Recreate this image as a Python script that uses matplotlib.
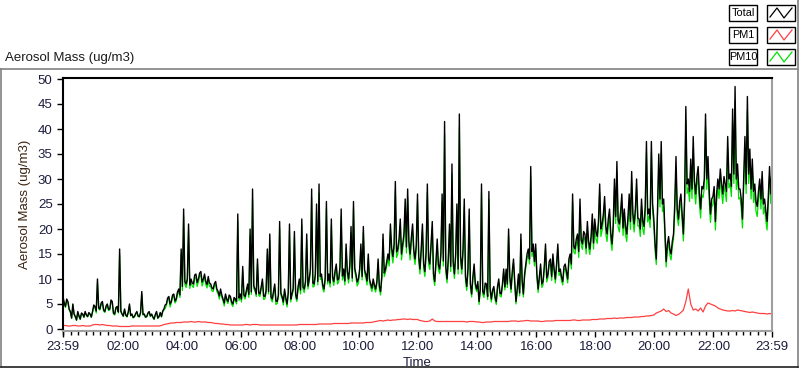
import matplotlib
matplotlib.use('Agg')
import matplotlib.pyplot as plt
from matplotlib.patches import Rectangle
from matplotlib.lines import Line2D
from matplotlib.ticker import MultipleLocator
import numpy as np

# Total and PM10: 2.5 minute samples starting 23:59 the day before (minute -1)
total = [
    6.5, 5.2, 4.5, 6, 5.5, 4, 3.5, 2.2, 5, 3, 2.5, 1.8, 3.5, 2.6, 2, 3.2, 3, 2.4, 3.5, 2.8, 2.5, 3.3, 3, 2.4,
    3.5, 4.8, 4.5, 3.6, 10, 4.2, 4, 5.2, 5.5, 3.8, 3.5, 4.6, 5, 3.9, 4, 5.8, 5.5, 3.2, 3, 4.3, 4.5, 3.4, 16, 3.6,
    3, 2.6, 4, 2.8, 2.5, 3.4, 5, 2.7, 3, 2.3, 2.5, 3.1, 3.5, 2.6, 2.5, 3.3, 7.5, 2.9, 3, 2.4, 2.5, 3.2, 3.5, 2.6,
    3, 2.4, 2, 2.9, 3.5, 2.2, 2.5, 3.3, 2.5, 3.6, 4, 4.8, 5, 6.2, 6.5, 5, 5.5, 6.8, 7, 5.6, 6, 7.4, 8, 6.8,
    16, 8.5, 24, 9.5, 9, 10, 21, 8.8, 10, 9.2, 9, 10.8, 11, 9.3, 10, 11.2, 11.5, 9.4, 10, 11, 9.5, 8.9, 10.5, 9.2,
    9, 8.2, 8, 9.1, 9.5, 8, 7.5, 6.6, 8, 6.8, 6, 5.2, 7, 6, 5.5, 6.8, 6.5, 5.4, 5, 6.3, 6, 5.5, 23, 6.2,
    7, 6, 12.5, 6.8, 6.5, 7.8, 9, 6.9, 20, 7.4, 28, 8.6, 8, 7, 14, 7.2, 7, 8.4, 10, 6.6, 6.5, 7.7, 16, 7.5,
    19, 6.4, 6, 7.5, 9, 5.6, 5.5, 6.8, 21.5, 7.2, 6.5, 5.4, 8, 6.2, 5, 7.3, 21, 6, 7, 8.1, 19.5, 6.9, 6, 8.5,
    10, 7.8, 22, 8.4, 8, 9.5, 19, 8.6, 10, 12, 28, 9.2, 9, 11, 25, 9.5, 29, 10.5, 11, 8.8, 8, 10.2, 25.5, 9.6,
    11, 9.2, 22, 10.4, 9.5, 11.6, 13, 9.8, 10, 12.4, 24, 10.6, 12, 9.6, 17, 11.5, 10, 12.8, 20.5, 10.2, 25.5, 12.2, 11, 9.4,
    10, 12, 17, 10.5, 20.5, 11.8, 11, 9.6, 15, 10, 9, 8.2, 10, 8.8, 8, 9.5, 14, 8.6, 7.5, 10.5, 19, 11.2, 12, 13.5,
    15, 13.8, 21, 16.2, 14.5, 17, 29.5, 15.4, 16, 18, 22, 15, 17, 19, 26, 16.4, 28, 17.5, 15, 18.3, 21, 15.8, 14, 16.8,
    27, 14.5, 12, 16, 21, 13, 11.5, 15.5, 29, 14, 13, 17, 21.5, 11, 9.5, 13.5, 18, 12.8, 12, 15.2, 27, 13.6, 41.5, 12.4,
    10, 14, 21, 12.5, 33, 13.5, 11, 15, 25, 12, 43, 14.5, 12, 16, 26, 10.5, 8.5, 12, 24, 9, 7, 10.5, 13, 9,
    8, 9.5, 5.5, 8, 29, 7.5, 7, 9.2, 9, 6.5, 27.5, 8, 6, 7.8, 8.5, 6.4, 5.5, 8.5, 10, 7.2, 7, 9, 12, 8.4,
    12, 9, 20, 10.5, 8, 11.5, 14, 9.5, 5.5, 8, 11, 7.2, 19, 9.8, 7, 11, 13, 15, 16, 14, 32.5, 15.5, 17, 13.5,
    17, 11, 8, 10.5, 13, 9, 9.5, 12.5, 17, 10.2, 11, 13.5, 14, 10.5, 15, 12, 10, 13, 17, 11.5, 12, 10.4, 9.5, 12.5,
    13, 11.5, 10, 14, 15, 13, 27, 16.5, 16, 18, 19, 15.5, 26, 17.8, 17, 19.5, 19, 16.2, 21.5, 17.5, 16, 18.5, 23, 17.2,
    22, 19.5, 18.5, 21.5, 29, 20, 21, 23, 26.5, 20.5, 19, 22, 24, 19.2, 17, 20.8, 30, 22.5, 33.5, 21.8, 21, 23.5, 27, 20.2,
    24, 20.5, 19, 22.5, 27, 21.5, 31.5, 23, 21, 24, 30, 22.2, 22, 20, 26, 21.6, 20.5, 24.5, 37.5, 23, 24, 22, 37.5, 25,
    22, 17, 14, 24, 35, 26, 37.5, 25, 26, 20, 13.5, 17, 18.5, 16, 15, 17.5, 19, 25, 34.5, 24, 22, 25.5, 27, 23,
    19, 26, 44.5, 29, 30, 27.5, 34, 28, 38.5, 29.5, 27, 30.5, 32.5, 27, 24, 28.5, 28, 30, 43, 30, 34.5, 27.5, 23, 26,
    26.5, 28.5, 21.5, 27, 30, 28, 32, 29, 27, 30.5, 29, 27.5, 38.5, 30, 31, 28.5, 44, 31, 48.5, 30, 33, 28, 28, 26,
    22, 30, 38.5, 29, 46.5, 31, 36, 28, 34, 27.5, 29, 25.5, 24.5, 27.5, 30, 26, 31.5, 25, 26, 23.5, 21.5, 26.5, 32.5, 27,
    32,
]

pm10 = [
    6.2, 5.0, 4.3, 5.7, 5.2, 3.8, 3.3, 2.1, 4.8, 2.9, 2.4, 1.7, 3.3, 2.5, 1.9, 3.0, 2.9, 2.3, 3.3, 2.7, 2.4, 3.1, 2.9, 2.3,
    3.3, 4.5, 4.2, 3.2, 9.3, 4.0, 3.8, 4.9, 5.2, 3.6, 3.3, 4.3, 4.7, 3.7, 3.8, 5.5, 5.2, 3.0, 2.8, 4.0, 4.2, 3.2, 15.0, 3.4,
    2.9, 2.5, 3.8, 2.7, 2.4, 3.2, 4.7, 2.6, 2.9, 2.2, 2.4, 2.9, 3.3, 2.5, 2.4, 3.1, 7.0, 2.8, 2.9, 2.3, 2.4, 3.0, 3.3, 2.5,
    2.9, 2.3, 1.9, 2.8, 3.3, 2.1, 2.4, 3.1, 2.4, 3.4, 3.8, 4.1, 4.7, 5.8, 6.1, 4.4, 5.2, 6.4, 6.6, 5.2, 5.6, 7.0, 7.5, 6.3,
    15, 7.7, 22.5, 8.9, 8.3, 9.4, 19.7, 8.1, 9.4, 8.6, 8.3, 10.1, 10.3, 8.5, 9.4, 10.5, 10.8, 8.6, 9.4, 10.3, 8.9, 8.2, 9.8, 8.5,
    8.5, 7.6, 7.5, 8.6, 8.9, 7.5, 7.0, 6.0, 7.5, 6.4, 5.6, 4.6, 6.6, 5.6, 5.1, 6.4, 6.1, 4.9, 4.5, 5.9, 5.6, 5.0, 21.5, 5.7,
    6.6, 5.4, 11.6, 6.4, 6.0, 7.3, 8.5, 6.3, 18.6, 6.9, 26, 8.1, 7.5, 6.5, 13, 6.7, 6.5, 7.9, 9.4, 5.9, 6.0, 7.2, 15, 7.0,
    17.8, 6.0, 5.4, 7.0, 8.5, 4.9, 5.1, 6.4, 20.2, 6.7, 6.1, 4.8, 7.5, 5.8, 4.4, 6.9, 19.7, 5.4, 6.6, 7.6, 18.3, 6.4, 5.5, 8.0,
    9.4, 7.0, 20.7, 7.9, 7.3, 8.9, 17.8, 8.0, 9.4, 11.3, 26.3, 8.4, 8.5, 10.3, 23.5, 8.8, 27.2, 9.9, 10.3, 8.0, 7.4, 9.6, 24, 9.0,
    10.3, 8.4, 20.7, 9.8, 8.7, 10.9, 12.2, 9.0, 9.4, 11.7, 22.5, 9.8, 11.3, 8.8, 16, 10.8, 9.2, 12.0, 19.3, 9.5, 24, 11.5, 10.3, 8.6,
    9.2, 11.3, 16, 9.8, 19.3, 11.1, 10.3, 8.8, 14.1, 9.4, 8.3, 7.5, 9.4, 8.1, 7.4, 8.9, 13.2, 7.9, 6.8, 9.9, 17.9, 10.5, 11.3, 12.7,
    14, 12.6, 19.7, 15.2, 13.2, 16, 27.7, 14.3, 15, 16.9, 20.7, 13.8, 16, 17.9, 24.4, 15.2, 26.3, 16.4, 13.8, 17.2, 19.7, 14.6, 12.9, 15.8,
    25.4, 13.4, 11.0, 15, 19.7, 12, 10.5, 14.6, 27.3, 13, 11.9, 16, 20.2, 10.1, 8.7, 12.7, 16.9, 11.8, 11.1, 14.3, 25.4, 12.6, 39, 11.4,
    9.2, 13.2, 19.7, 11.5, 31, 12.5, 10.1, 14.1, 23.5, 11, 40.4, 13.4, 11, 15, 24.4, 9.6, 7.7, 11.3, 22.6, 8.2, 6.4, 9.9, 12.2, 8.3,
    7.5, 8.9, 4.9, 7.5, 27.3, 6.9, 6.3, 8.6, 8.5, 5.9, 25.9, 7.4, 5.4, 7.3, 8.0, 5.8, 4.9, 8.0, 9.4, 6.6, 6.4, 8.5, 11.3, 7.8,
    11.3, 8.3, 18.8, 9.9, 7.3, 10.8, 13.2, 8.8, 5.0, 7.4, 10.3, 6.6, 17.9, 9.1, 6.4, 10.3, 12.2, 14.1, 15, 13, 30.5, 14.5, 16, 12.6,
    16, 10.2, 7.3, 9.8, 12.2, 8.3, 8.8, 11.8, 16, 9.4, 10.3, 12.7, 13.2, 9.7, 14.1, 11.3, 9.2, 12.2, 16, 10.7, 11.3, 9.6, 8.8, 11.8,
    12.2, 10.7, 9.2, 13.2, 14.1, 12, 25.4, 15.4, 15, 16.9, 17.9, 14.3, 24.4, 16.7, 15.9, 18.3, 17.9, 15, 20.2, 16.3, 14.9, 17.4, 21.6, 16,
    20.7, 18, 17.1, 20.2, 27.3, 18.5, 19.7, 21.6, 24.9, 19, 17.5, 20.7, 22.6, 17.7, 15.7, 19.5, 28.2, 21.1, 31.5, 20.4, 19.4, 22.1, 25.4, 18.7,
    22.6, 18.9, 17.5, 21.1, 25.4, 19.9, 29.6, 21.6, 19.4, 22.6, 28.2, 20.6, 20.7, 18.5, 24.4, 20, 18.9, 23, 35.3, 21.4, 22.6, 20.3, 35.3, 23.5,
    20.7, 15.6, 12.9, 22.6, 32.9, 24.4, 35.3, 23.5, 24.4, 18.5, 12.4, 15.8, 17.4, 14.8, 13.8, 16.4, 17.9, 23.5, 32.4, 22.3, 20.7, 24, 25.4, 21.4,
    17.6, 24.4, 41.8, 27.1, 28.2, 25.5, 32, 26.1, 36.2, 27.5, 25, 28.7, 30.5, 25.1, 22.2, 26.8, 26.3, 28.2, 40.4, 27.9, 32.4, 25.6, 21.3, 24.4,
    24.9, 26.8, 19.8, 25.4, 28.2, 26.1, 30.1, 27.3, 25.1, 28.7, 27.3, 25.5, 36.2, 28.2, 29.1, 26.5, 41.4, 29.1, 45.6, 27.9, 31, 26, 26.3, 24.2,
    20.2, 28.2, 36.2, 27.1, 43.7, 29.1, 33.8, 26, 32, 25.3, 27.3, 23.5, 22.5, 25.9, 28.2, 24, 29.6, 23, 24.4, 21.6, 19.8, 24.9, 30.6, 25.1,
    30,
]

# PM1: 5 minute samples
pm1 = [
    0.7, 0.7, 0.6, 0.6, 0.7, 0.7, 0.6, 0.6, 0.7, 0.6, 0.6, 0.6,
    0.8, 0.9, 0.9, 0.8, 0.9, 0.8, 0.7, 0.7, 0.6, 0.6, 0.6, 0.5,
    0.5, 0.5, 0.5, 0.5, 0.6, 0.6, 0.6, 0.6, 0.6, 0.6, 0.6, 0.6,
    0.6, 0.6, 0.6, 0.6, 0.7, 0.9, 1.0, 1.1, 1.2, 1.2, 1.3, 1.3,
    1.3, 1.4, 1.4, 1.4, 1.5, 1.4, 1.4, 1.5, 1.4, 1.4, 1.4, 1.3,
    1.3, 1.2, 1.1, 1.1, 1.0, 1.0, 0.9, 0.9, 0.8, 0.8, 0.8, 0.8,
    0.8, 0.8, 0.9, 0.9, 0.8, 0.9, 0.9, 0.9, 0.8, 0.8, 0.8, 0.8,
    0.8, 0.8, 0.8, 0.8, 0.8, 0.8, 0.8, 0.8, 0.8, 0.8, 0.8, 0.8,
    0.9, 0.9, 0.9, 0.9, 0.9, 0.9, 0.9, 0.9, 1.0, 1.0, 1.0, 1.0,
    1.0, 1.0, 1.1, 1.1, 1.1, 1.1, 1.1, 1.1, 1.1, 1.2, 1.2, 1.2,
    1.2, 1.2, 1.2, 1.3, 1.3, 1.3, 1.4, 1.5, 1.6, 1.7, 1.6, 1.7,
    1.8, 1.7, 1.8, 1.8, 1.9, 1.9, 2.0, 2.0, 1.9, 2.0, 1.9, 1.9,
    1.9, 1.7, 1.6, 1.5, 1.5, 1.6, 2.0, 1.6, 1.5, 1.5, 1.5, 1.5,
    1.5, 1.5, 1.5, 1.5, 1.5, 1.5, 1.5, 1.5, 1.4, 1.5, 1.5, 1.5,
    1.4, 1.4, 1.3, 1.3, 1.4, 1.4, 1.4, 1.5, 1.5, 1.5, 1.5, 1.5,
    1.5, 1.5, 1.6, 1.6, 1.6, 1.5, 1.6, 1.6, 1.7, 1.7, 1.6, 1.6,
    1.6, 1.6, 1.5, 1.5, 1.6, 1.6, 1.6, 1.6, 1.7, 1.7, 1.7, 1.7,
    1.7, 1.7, 1.7, 1.8, 1.8, 1.7, 1.7, 1.8, 1.8, 1.8, 1.8, 1.9,
    1.9, 1.9, 2.0, 2.0, 2.0, 2.1, 2.1, 2.1, 2.2, 2.1, 2.2, 2.2,
    2.2, 2.3, 2.3, 2.3, 2.4, 2.4, 2.4, 2.5, 2.5, 2.6, 2.6, 2.7,
    2.8, 3.2, 3.4, 3.6, 4.0, 3.5, 3.7, 3.2, 3.0, 2.7, 2.9, 3.3,
    3.8, 5.5, 8.0, 5.0, 3.8, 4.0, 3.6, 4.2, 3.4, 4.6, 5.2, 5.0,
    4.8, 4.6, 4.2, 4.0, 3.8, 3.7, 3.6, 3.6, 3.7, 3.6, 3.8, 3.7,
    3.6, 3.5, 3.4, 3.3, 3.4, 3.3, 3.2, 3.1, 3.1, 3.1, 3.0, 3.1,
    3.0,
]

tick_pos = [-1, 120, 240, 360, 480, 600, 720, 840, 960, 1080, 1200, 1320, 1439]
tick_labels = ['23:59', '02:00', '04:00', '06:00', '08:00', '10:00', '12:00',
               '14:00', '16:00', '18:00', '20:00', '22:00', '23:59']
legend_names = ['Total', 'PM1', 'PM10']
legend_colors = ['#000000', '#ff4040', '#00e000']

W, H = 800, 369
plt.rcParams['font.family'] = ['Liberation Sans', 'DejaVu Sans']


def fx(x):
    return x / W


def fy(y):
    return 1 - y / H


t_fast = -1 + 2.5 * np.arange(len(total))
t_slow = -1 + 5 * np.arange(len(pm1))

fig = plt.figure(figsize=(W / 100, H / 100), dpi=100)
ax = fig.add_axes([fx(63), fy(331), (772 - 63) / W, (331 - 78) / H])

ax.plot(t_fast, pm10, color=legend_colors[2], lw=0.9)
ax.plot(t_slow, pm1, color=legend_colors[1], lw=0.9)
ax.plot(t_fast, total, color=legend_colors[0], lw=1.0)

ax.set_xlim(-1, 1439)
ax.set_ylim(-0.4, 50.2)
ax.set_yticks(range(0, 51, 5))
ax.set_xticks(tick_pos)
ax.set_xticklabels(tick_labels)
ax.xaxis.set_minor_locator(MultipleLocator(15))
ax.tick_params(axis='both', which='major', direction='out', length=4,
               width=1, colors='black', labelsize=9.5, labelcolor='#1c1c3c')
ax.tick_params(axis='x', which='minor', direction='out', length=3, width=1)
ax.tick_params(axis='x', pad=3)

ax.spines['top'].set_color('black')
ax.spines['left'].set_color('black')
ax.spines['bottom'].set_color('#a0a0a0')
ax.spines['right'].set_color('#a0a0a0')
for s in ax.spines.values():
    s.set_linewidth(1.5)

ax.set_ylabel('Aerosol Mass (ug/m3)', fontsize=9.5, color='#3a2410', labelpad=5)
ax.set_xlabel('Time', fontsize=9.5, color='#1c1c3c', labelpad=3)

# outer gray frame of the graph control
fig.add_artist(Line2D([fx(1), fx(1)], [fy(69), fy(367)], color='#808080', lw=1.2))
fig.add_artist(Line2D([fx(0), fx(797)], [fy(69), fy(69)], color='#808080', lw=1.2))
fig.add_artist(Line2D([fx(798), fx(798)], [fy(0), fy(367)], color='#808080', lw=1.2))
fig.add_artist(Line2D([fx(1), fx(798)], [fy(367), fy(367)], color='#202020', lw=1.2))

fig.text(fx(5), fy(58), 'Aerosol Mass (ug/m3)', fontsize=9.5, color='#1c1c1c',
         va='center', ha='left')

# legend boxes on the top right
for i, (name, col) in enumerate(zip(legend_names, legend_colors)):
    top = 5 + i * 22
    fig.add_artist(Rectangle((fx(729), fy(top + 16)), 28 / W, 16 / H,
                             transform=fig.transFigure, facecolor='white',
                             edgecolor='black', lw=1))
    fig.text(fx(743), fy(top + 8.5), name, fontsize=7.8, color='black',
             va='center', ha='center')
    fig.add_artist(Rectangle((fx(767), fy(top + 16)), 28 / W, 16 / H,
                             transform=fig.transFigure, facecolor='white',
                             edgecolor='black', lw=1))
    zx = [770, 777, 784, 792]
    zy = [top + 12, top + 3, top + 13, top + 3]
    fig.add_artist(Line2D([fx(v) for v in zx], [fy(v) for v in zy],
                          color=col, lw=0.9))

fig.savefig('out.png', dpi=100)
